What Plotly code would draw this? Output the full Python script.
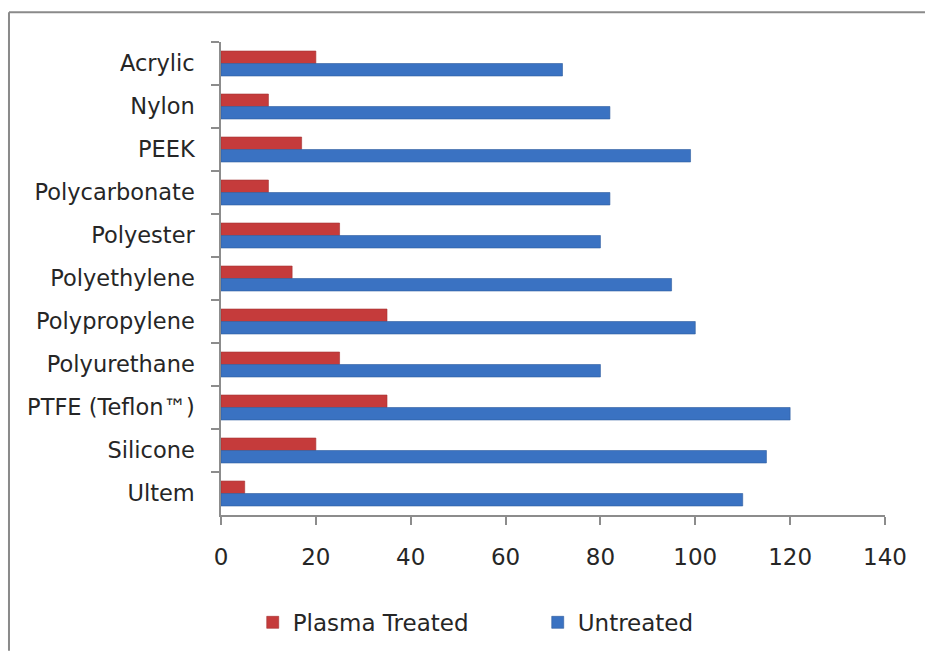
import plotly.graph_objects as go

categories = ["Acrylic", "Nylon", "PEEK", "Polycarbonate", "Polyester", "Polyethylene",
              "Polypropylene", "Polyurethane", "PTFE (Teflon™)", "Silicone", "Ultem"]
plasma_treated = [20, 10, 17, 10, 25, 15, 35, 25, 35, 20, 5]
untreated = [72, 82, 99, 82, 80, 95, 100, 80, 120, 115, 110]
x_ticks = [0, 20, 40, 60, 80, 100, 120, 140]

FONT = "'DejaVu Sans', sans-serif"
BORDER = dict(color="#8A8A8A", width=2)

fig = go.Figure()
fig.add_trace(go.Bar(y=categories, x=plasma_treated, orientation="h", name="Plasma Treated",
                     marker=dict(color="#C53B3B", line=dict(color="#A53030", width=0.6))))
fig.add_trace(go.Bar(y=categories, x=untreated, orientation="h", name="Untreated",
                     marker=dict(color="#3A72C2", line=dict(color="#2D5D9E", width=0.6))))

fig.update_layout(
    width=925, height=656,
    margin=dict(l=221, r=40, t=42, b=137),
    paper_bgcolor="white", plot_bgcolor="white",
    barmode="group", bargap=0.42, bargroupgap=0,
    font=dict(family=FONT, size=22, color="#262626"),
    legend=dict(orientation="h", x=0.477, xanchor="center", y=-0.227, yanchor="middle",
                font=dict(size=23, family=FONT, color="#262626"),
                traceorder="normal", entrywidth=240, entrywidthmode="pixels"),
    shapes=[
        dict(type="line", xref="paper", yref="paper", x0=-0.3193, x1=1.0602,
             y0=1.0629, y1=1.0629, line=BORDER, layer="below"),
        dict(type="line", xref="paper", yref="paper", x0=-0.3193, x1=-0.3193,
             y0=-0.287, y1=1.0629, line=BORDER, layer="below"),
    ],
)
fig.update_xaxes(range=[0, 140], tickvals=x_ticks, showgrid=False, zeroline=False,
                 showline=True, linecolor="#8C8C8C", linewidth=1.5,
                 ticks="outside", ticklen=8, tickcolor="#8C8C8C", tickwidth=1.5,
                 ticklabelstandoff=13, tickfont=dict(size=23))
fig.update_yaxes(autorange="reversed", showgrid=False, showline=True, linecolor="#8C8C8C",
                 linewidth=1.5, ticks="outside", ticklen=8, tickcolor="#8C8C8C", tickwidth=1.5,
                 tickson="boundaries", ticklabelstandoff=20, tickfont=dict(size=22.5))

fig.write_html("out.html", config={"displayModeBar": False},
               post_script="document.body.style.margin='0';document.body.style.overflow='hidden';")
